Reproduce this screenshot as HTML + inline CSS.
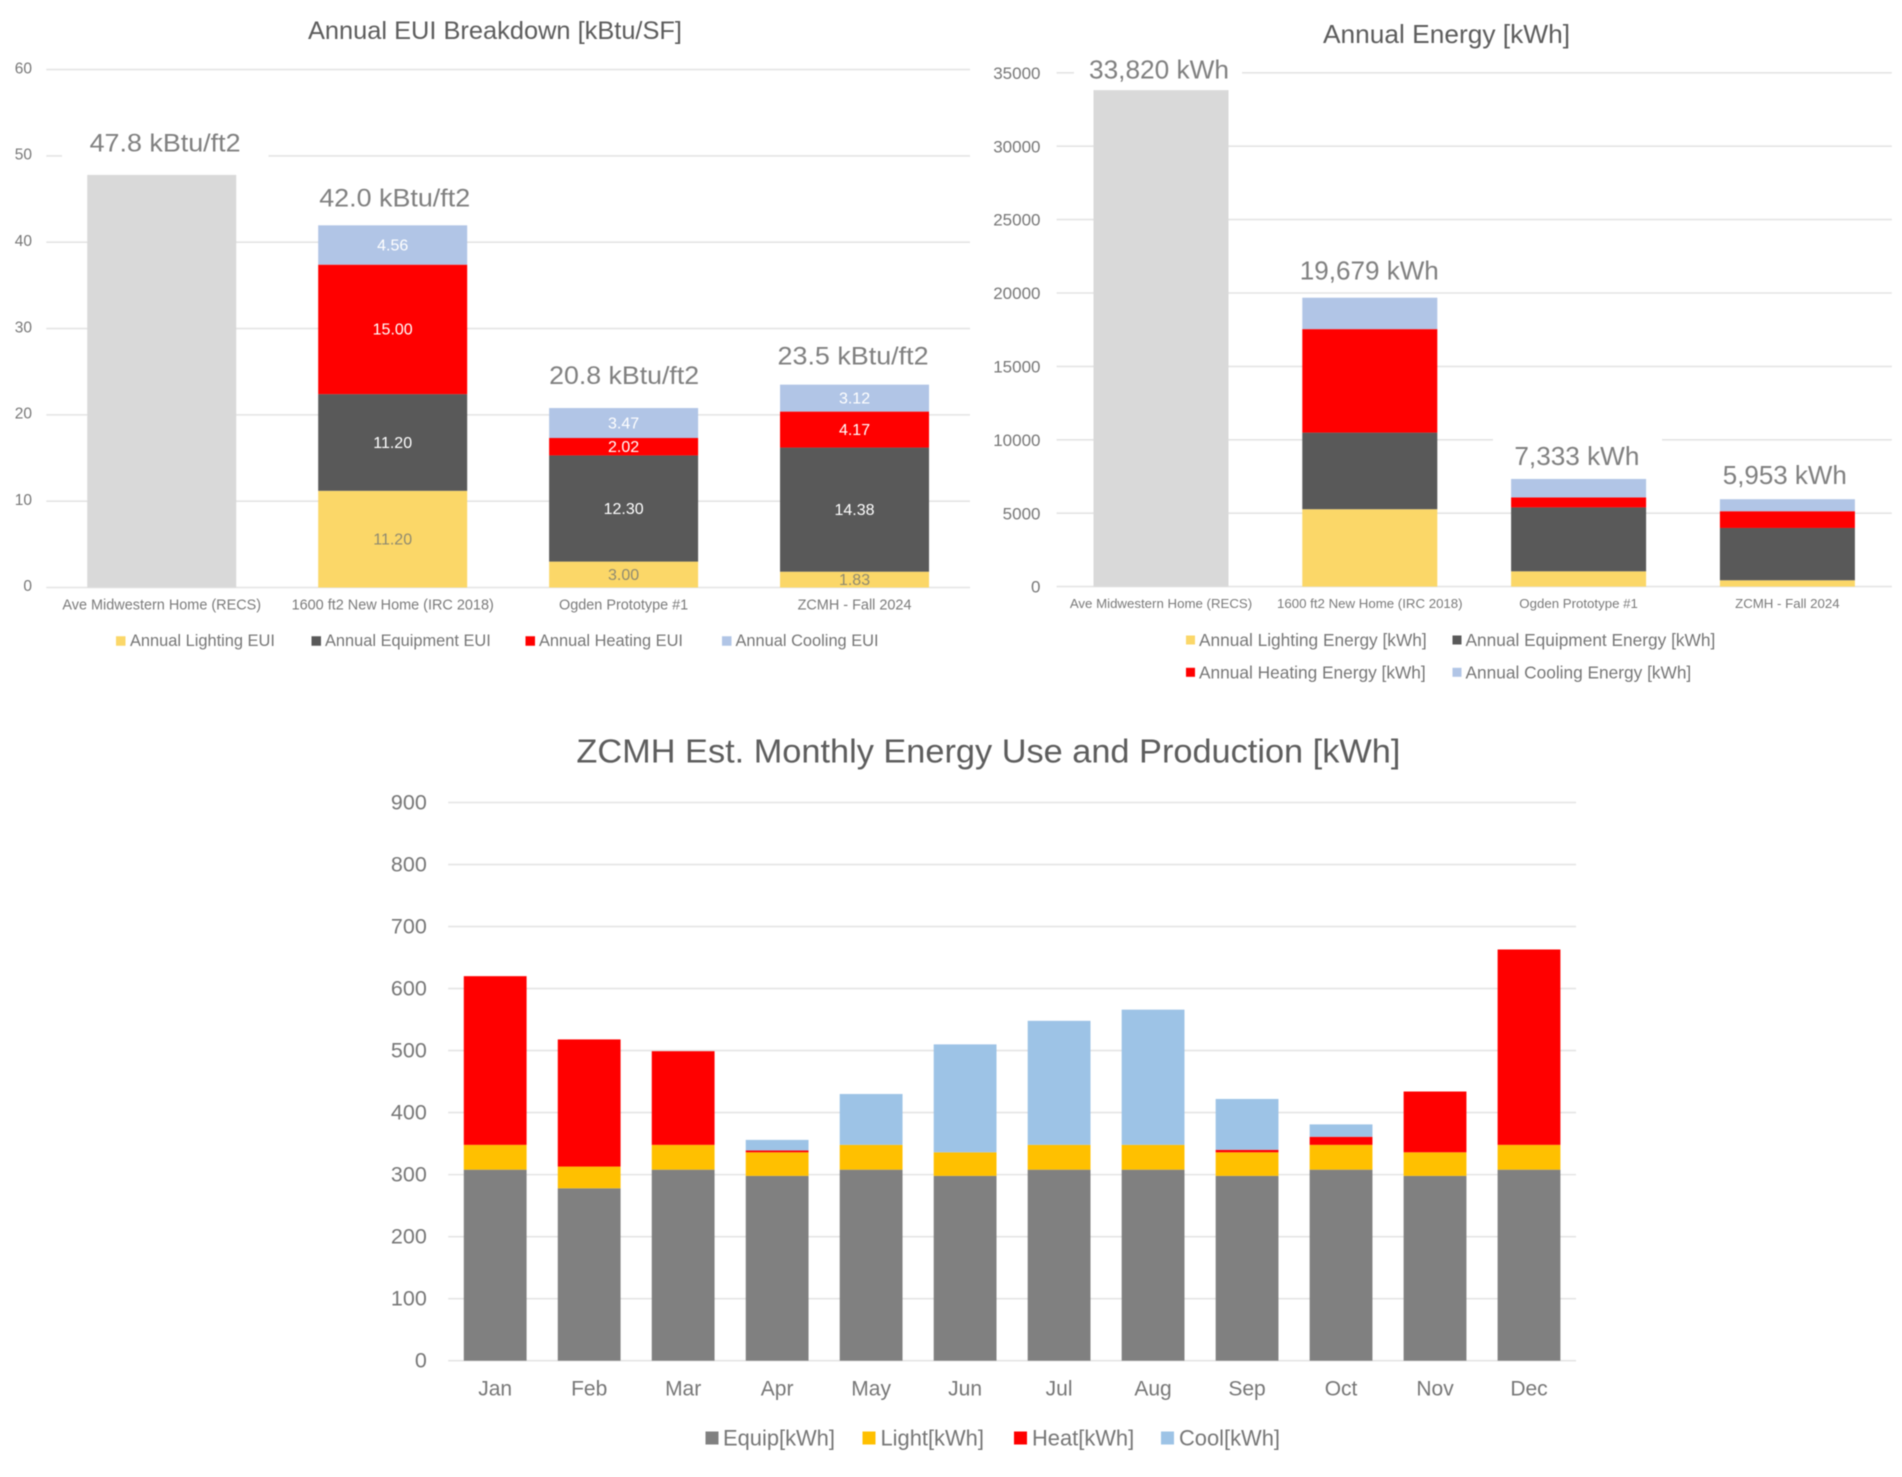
<!DOCTYPE html>
<html lang="en">
<head>
<meta charset="utf-8">
<title>Home Energy Charts</title>
<style>
  html, body { margin: 0; padding: 0; background: #ffffff; }
  body { width: 1902px; height: 1477px; overflow: hidden; }
  svg { display: block; filter: blur(0.6px); font-family: "Liberation Sans", sans-serif; }
</style>
</head>
<body>
<svg id="root" xmlns="http://www.w3.org/2000/svg" width="1902" height="1477" viewBox="0 0 1902 1477">
  <rect width="1902" height="1477" fill="#ffffff"></rect>
</svg>
<script>
// ---- Annual EUI chart data ----
const euiCategories = ["Ave Midwestern Home (RECS)", "1600 ft2 New Home (IRC 2018)", "Ogden Prototype #1", "ZCMH - Fall 2024"];
const euiTicks = [0, 10, 20, 30, 40, 50, 60];
const euiBase = [47.8, 0, 0, 0];
const euiLighting = [0, 11.20, 3.00, 1.83];
const euiEquipment = [0, 11.20, 12.30, 14.38];
const euiHeating = [0, 15.00, 2.02, 4.17];
const euiCooling = [0, 4.56, 3.47, 3.12];
const euiTotalLabels = ["47.8 kBtu/ft2", "42.0 kBtu/ft2", "20.8 kBtu/ft2", "23.5 kBtu/ft2"];

// ---- Annual energy chart data ----
const energyCategories = ["Ave Midwestern Home (RECS)", "1600 ft2 New Home (IRC 2018)", "Ogden Prototype #1", "ZCMH - Fall 2024"];
const energyTicks = [0, 5000, 10000, 15000, 20000, 25000, 30000, 35000];
const energyBase = [33820, 0, 0, 0];
const energyLighting = [0, 5270, 1040, 430];
const energyEquipment = [0, 5220, 4355, 3565];
const energyHeating = [0, 7050, 680, 1140];
const energyCooling = [0, 2139, 1258, 818];
const energyTotalLabels = ["33,820 kWh", "19,679 kWh", "7,333 kWh", "5,953 kWh"];

// ---- Monthly chart data ----
const months = ["Jan", "Feb", "Mar", "Apr", "May", "Jun", "Jul", "Aug", "Sep", "Oct", "Nov", "Dec"];
const monthlyTicks = [0, 100, 200, 300, 400, 500, 600, 700, 800, 900];
const monthlyEquip = [308, 278, 308, 298, 308, 298, 308, 308, 298, 308, 298, 308];
const monthlyLight = [40, 35, 40, 38, 40, 38, 40, 40, 38, 40, 38, 40];
const monthlyHeat = [272, 205, 151, 3, 0, 0, 0, 0, 4, 13, 98, 315];
const monthlyCool = [0, 0, 0, 17, 82, 174, 200, 218, 82, 20, 0, 0];

const SVG_NS = "http://www.w3.org/2000/svg";
const root = document.getElementById("root");
const GRID = "#e4e4e4";
const AXIS_TEXT = "#777777";
const TITLE_TEXT = "#5d5d5d";

function make(parent, tag, attrs, content) {
  const el = document.createElementNS(SVG_NS, tag);
  for (const key in attrs) el.setAttribute(key, attrs[key]);
  if (content !== undefined) el.textContent = content;
  parent.appendChild(el);
  return el;
}

function slug(text) {
  return String(text).toLowerCase().replace(/[^a-z0-9]+/g, "-").replace(/^-|-$/g, "");
}

function makeChart(name, plot, maxValue, categories) {
  const group = make(root, "g", {});
  
  
  const chart = { name, plot, maxValue, categories, group, series: [] };
  chart.y = function (v) { return plot.bottom - (v / maxValue) * (plot.bottom - plot.top); };
  chart.band = (plot.right - plot.left) / categories.length;
  chart.x = function (i) { return plot.left + chart.band * (i + 0.5); };
  return chart;
}

function drawGrid(chart, ticks, labelRight, fontSize, dy) {
  ticks.forEach(function (t) {
    const yy = chart.y(t);
    const line = make(chart.group, "line", { x1: chart.plot.left, x2: chart.plot.right, y1: yy, y2: yy, stroke: GRID, "stroke-width": 1.6 });
    
    
    const label = make(chart.group, "text", { x: labelRight, y: yy + dy, "text-anchor": "end", "dominant-baseline": "central", "font-size": fontSize, fill: AXIS_TEXT }, String(t));
    
    
  });
}

function drawTitle(chart, text, cx, cy, fontSize, width) {
  const el = make(chart.group, "text", { x: cx, y: cy, "text-anchor": "middle", "dominant-baseline": "central", "font-size": fontSize, fill: TITLE_TEXT, textLength: width, lengthAdjust: "spacingAndGlyphs" }, text);
  
  
}

function drawBars(chart, seriesList, barWidth, valueFont) {
  chart.series = seriesList;
  chart.categories.forEach(function (cat, i) {
    let running = 0;
    seriesList.forEach(function (s) {
      const v = s.values[i];
      if (v > 0) {
        const top = chart.y(running + v);
        const bottom = chart.y(running);
        const bar = make(chart.group, "rect", { x: chart.x(i) - barWidth / 2, y: top, width: barWidth, height: bottom - top, fill: s.color });
        
        
        if (s.labelColor) {
          const value = make(chart.group, "text", { x: chart.x(i), y: (top + bottom) / 2 + 0.8, "text-anchor": "middle", "dominant-baseline": "central", "font-size": valueFont, fill: s.labelColor }, v.toFixed(2));
          
          
        }
      }
      running += v;
    });
  });
}

function stackTotal(chart, i) {
  return chart.series.reduce(function (sum, s) { return sum + s.values[i]; }, 0);
}

function drawTotal(chart, i, text, lift, xShift, width, fontSize) {
  const cy = chart.y(stackTotal(chart, i)) - lift;
  const el = make(chart.group, "text", { x: chart.x(i) + xShift, y: cy, "text-anchor": "middle", "dominant-baseline": "central", "font-size": fontSize, fill: "#808080", textLength: width, lengthAdjust: "spacingAndGlyphs" }, text);
  
  
}

function drawCategories(chart, cy, fontSize, color) {
  chart.categories.forEach(function (cat, i) {
    const el = make(chart.group, "text", { x: chart.x(i), y: cy, "text-anchor": "middle", "dominant-baseline": "central", "font-size": fontSize, fill: color }, cat);
    
    
  });
}

function legendEntry(chart, x, cy, size, gap, s, fontSize) {
  const item = make(chart.group, "g", {});
  
  
  const swatch = make(item, "rect", { x: x, y: cy - size / 2, width: size, height: size, fill: s.color });
  
  
  const label = make(item, "text", { x: x + size + gap, y: cy, "dominant-baseline": "central", "font-size": fontSize, fill: AXIS_TEXT }, s.name);
  
  
}

function whiteGap(chart, tickValue, x1, x2) {
  const yy = chart.y(tickValue);
  const gap = make(chart.group, "rect", { x: x1, y: yy - 3, width: x2 - x1, height: 6, fill: "#ffffff" });
  
  
}

// ---- Chart 1: Annual EUI ----
const eui = makeChart("annual-eui-chart", { left: 46.3, right: 970, top: 69.6, bottom: 587.5 }, 60, euiCategories);
drawGrid(eui, euiTicks, 32, 15.5, -0.8);
whiteGap(eui, 50, 62, 268.5);
drawTitle(eui, "Annual EUI Breakdown [kBtu/SF]", 495, 31, 25, 374);
const euiSeries = {
  base: { name: "Ave Home EUI", values: euiBase, color: "#d9d9d9" },
  light: { name: "Annual Lighting EUI", values: euiLighting, color: "#fbd768", labelColor: "#8f8a70" },
  equip: { name: "Annual Equipment EUI", values: euiEquipment, color: "#595959", labelColor: "#ffffff" },
  heat: { name: "Annual Heating  EUI", values: euiHeating, color: "#ff0000", labelColor: "#ffffff" },
  cool: { name: "Annual Cooling  EUI", values: euiCooling, color: "#b1c5e6", labelColor: "#ffffff" }
};
drawBars(eui, [euiSeries.base, euiSeries.light, euiSeries.equip, euiSeries.heat, euiSeries.cool], 149, 16);
drawTotal(eui, 0, euiTotalLabels[0], 31.6, 3.3, 151, 25);
drawTotal(eui, 1, euiTotalLabels[1], 27, 2, 151, 25);
drawTotal(eui, 2, euiTotalLabels[2], 32, 0.5, 150, 25);
drawTotal(eui, 3, euiTotalLabels[3], 28, -1.5, 151, 25);
drawCategories(eui, 605.5, 14.45, "#7b7b7b");
legendEntry(eui, 116, 641, 9.5, 4.5, euiSeries.light, 16.4);
legendEntry(eui, 311.5, 641, 9.5, 4, euiSeries.equip, 16.4);
legendEntry(eui, 525.5, 641, 9.5, 4, euiSeries.heat, 16.4);
legendEntry(eui, 722, 641, 9.5, 4, euiSeries.cool, 16.4);

// ---- Chart 2: Annual Energy ----
const energy = makeChart("annual-energy-chart", { left: 1056.6, right: 1891.8, top: 72.8, bottom: 586.6 }, 35000, energyCategories);
drawGrid(energy, energyTicks, 1040.5, 17, 0.6);
whiteGap(energy, 35000, 1074, 1242);
whiteGap(energy, 10000, 1493, 1662);
drawTitle(energy, "Annual Energy [kWh]", 1446.5, 34, 26, 247);
const energySeries = {
  base: { name: "Ave Home Energy", values: energyBase, color: "#d9d9d9" },
  light: { name: "Annual Lighting Energy [kWh]", values: energyLighting, color: "#fbd768" },
  equip: { name: "Annual Equipment Energy [kWh]", values: energyEquipment, color: "#595959" },
  heat: { name: "Annual Heating Energy [kWh]", values: energyHeating, color: "#ff0000" },
  cool: { name: "Annual Cooling Energy [kWh]", values: energyCooling, color: "#b1c5e6" }
};
drawBars(energy, [energySeries.base, energySeries.light, energySeries.equip, energySeries.heat, energySeries.cool], 135, 16);
drawTotal(energy, 0, energyTotalLabels[0], 20.6, -2, 140, 26);
drawTotal(energy, 1, energyTotalLabels[1], 27, -0.5, 139, 26);
drawTotal(energy, 2, energyTotalLabels[2], 23, -1.7, 125, 26);
drawTotal(energy, 3, energyTotalLabels[3], 24, -2.6, 124, 26);
drawCategories(energy, 603.6, 13.25, "#7b7b7b");
legendEntry(energy, 1186, 640, 9, 4, energySeries.light, 17.3);
legendEntry(energy, 1452.5, 640, 9, 4, energySeries.equip, 17.3);
legendEntry(energy, 1186, 672.3, 9, 4, energySeries.heat, 17.3);
legendEntry(energy, 1452.5, 672.3, 9, 4, energySeries.cool, 17.3);

// ---- Chart 3: Monthly ----
const monthly = makeChart("monthly-energy-chart", { left: 448.2, right: 1576, top: 802.5, bottom: 1360.7 }, 900, months);
drawGrid(monthly, monthlyTicks, 426.8, 21.5, 0);
drawTitle(monthly, "ZCMH Est. Monthly Energy Use and Production [kWh]", 988.4, 751, 33, 824);
const monthlySeries = {
  equip: { name: "Equip[kWh]", values: monthlyEquip, color: "#808080" },
  light: { name: "Light[kWh]", values: monthlyLight, color: "#ffc000" },
  heat: { name: "Heat[kWh]", values: monthlyHeat, color: "#ff0000" },
  cool: { name: "Cool[kWh]", values: monthlyCool, color: "#9dc3e6" }
};
drawBars(monthly, [monthlySeries.equip, monthlySeries.light, monthlySeries.heat, monthlySeries.cool], 62.8, 16);
drawCategories(monthly, 1389, 21, "#777777");
legendEntry(monthly, 705.5, 1438, 13, 4.5, monthlySeries.equip, 21.9);
legendEntry(monthly, 862.5, 1438, 13, 5, monthlySeries.light, 21.9);
legendEntry(monthly, 1014, 1438, 13, 5, monthlySeries.heat, 21.9);
legendEntry(monthly, 1161, 1438, 13, 5, monthlySeries.cool, 21.9);
</script>
</body>
</html>
